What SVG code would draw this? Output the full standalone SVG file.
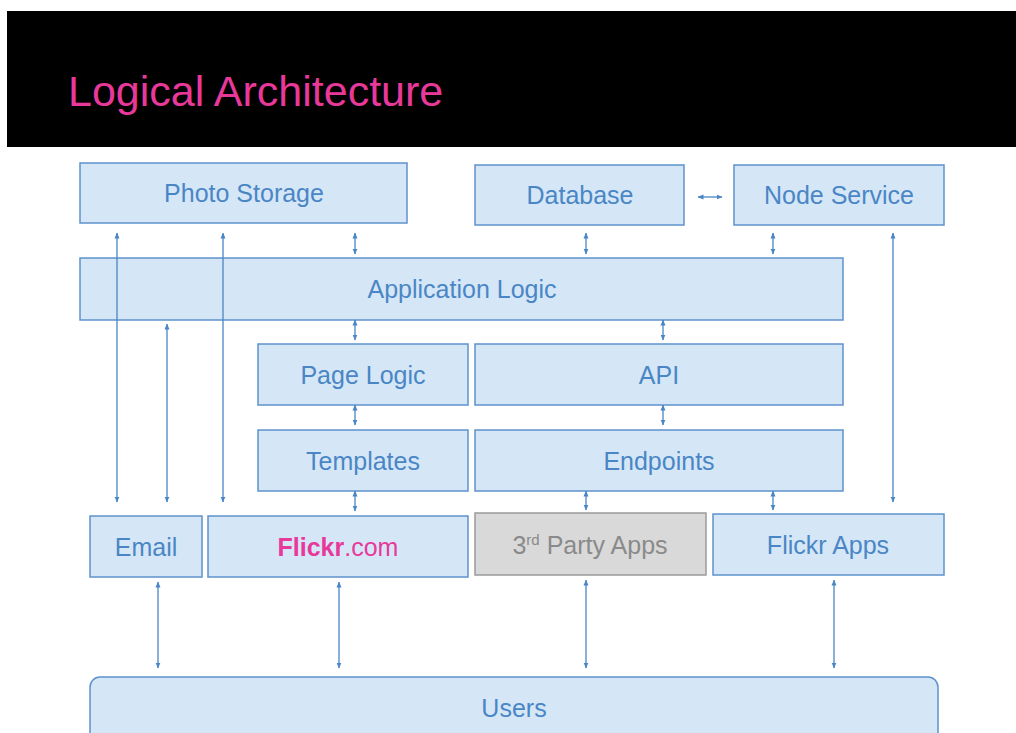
<svg xmlns="http://www.w3.org/2000/svg" width="1016" height="733" viewBox="0 0 1016 733">
<defs>
<marker id="ah" viewBox="0 0 6 6" refX="5.5" refY="3" markerWidth="6" markerHeight="6" markerUnits="userSpaceOnUse" orient="auto-start-reverse">
<path d="M0,0.5 L6,3 L0,5.5 Z" fill="#4a86c5"/>
</marker>
</defs>
<style>
.box{fill:#d5e7f7;stroke:#5d93cc;stroke-width:1.5}
.gbox{fill:#d9d9d9;stroke:#9a9a9a;stroke-width:1.5}
.t{font-family:"Liberation Sans",Arial,sans-serif;font-size:25px;fill:#4a86c5;text-anchor:middle}
.g{fill:#8a8a8a}
.c{stroke:#4a86c5;stroke-width:1.3;fill:none;marker-start:url(#ah);marker-end:url(#ah)}
</style>
<rect x="0" y="0" width="1016" height="733" fill="#ffffff"/>
<g id="header">
<rect x="7" y="11" width="1009" height="136" fill="#000000"/>
<text x="68" y="106" font-family="'Liberation Sans',Arial,sans-serif" font-size="43" fill="#e8399b">Logical Architecture</text>
</g>
<g id="photo-storage"><rect class="box" x="80" y="163" width="327" height="60"/><text class="t" x="244" y="202">Photo Storage</text></g>
<g id="database"><rect class="box" x="475" y="165" width="209" height="60"/><text class="t" x="580" y="204">Database</text></g>
<g id="node-service"><rect class="box" x="734" y="165" width="210" height="60"/><text class="t" x="839" y="204">Node Service</text></g>
<g id="application-logic"><rect class="box" x="80" y="258" width="763" height="62"/><text class="t" x="462" y="298">Application Logic</text></g>
<g id="page-logic"><rect class="box" x="258" y="344" width="210" height="61"/><text class="t" x="363" y="384">Page Logic</text></g>
<g id="api"><rect class="box" x="475" y="344" width="368" height="61"/><text class="t" x="659" y="384">API</text></g>
<g id="templates"><rect class="box" x="258" y="430" width="210" height="61"/><text class="t" x="363" y="470">Templates</text></g>
<g id="endpoints"><rect class="box" x="475" y="430" width="368" height="61"/><text class="t" x="659" y="470">Endpoints</text></g>
<g id="email"><rect class="box" x="90" y="516" width="112" height="61"/><text class="t" x="146" y="556">Email</text></g>
<g id="flickr-com"><rect class="box" x="208" y="516" width="260" height="61"/><text class="t" x="338" y="556" style="fill:#e8399b"><tspan font-weight="bold">Flickr</tspan>.com</text></g>
<g id="third-party-apps"><rect class="gbox" x="475" y="513" width="231" height="62"/><text class="t g" x="590" y="554">3<tspan font-size="15" dy="-9">rd</tspan><tspan dy="9"> Party Apps</tspan></text></g>
<g id="flickr-apps"><rect class="box" x="713" y="514" width="231" height="61"/><text class="t" x="828" y="554">Flickr Apps</text></g>
<g id="users"><rect class="box" x="90" y="677" width="848" height="80" rx="10" ry="10"/><text class="t" x="514" y="717">Users</text></g>
<g id="connectors">
<line class="c" x1="117" y1="233" x2="117" y2="502"/>
<line class="c" x1="223" y1="233" x2="223" y2="502"/>
<line class="c" x1="167" y1="324" x2="167" y2="502"/>
<line class="c" x1="893" y1="233" x2="893" y2="502"/>
<line class="c" x1="355" y1="233" x2="355" y2="254"/>
<line class="c" x1="586" y1="233" x2="586" y2="254"/>
<line class="c" x1="773" y1="233" x2="773" y2="254"/>
<line class="c" x1="698" y1="197" x2="722" y2="197"/>
<line class="c" x1="355" y1="320" x2="355" y2="340"/>
<line class="c" x1="663" y1="320" x2="663" y2="340"/>
<line class="c" x1="355" y1="405" x2="355" y2="425"/>
<line class="c" x1="663" y1="405" x2="663" y2="425"/>
<line class="c" x1="355" y1="491" x2="355" y2="511"/>
<line class="c" x1="586" y1="491" x2="586" y2="510"/>
<line class="c" x1="773" y1="491" x2="773" y2="510"/>
<line class="c" x1="158" y1="582" x2="158" y2="668"/>
<line class="c" x1="339" y1="582" x2="339" y2="668"/>
<line class="c" x1="586" y1="580" x2="586" y2="668"/>
<line class="c" x1="834" y1="580" x2="834" y2="668"/>
</g>
</svg>
